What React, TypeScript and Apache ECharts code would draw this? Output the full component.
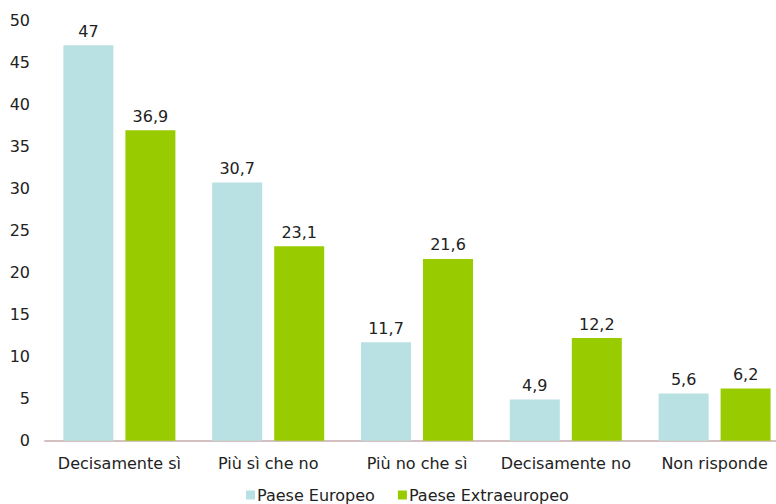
import React, { useEffect, useRef } from "react";
import * as echarts from "echarts";

const categories = ["Decisamente sì", "Più sì che no", "Più no che sì", "Decisamente no", "Non risponde"];
const europeo = [47, 30.7, 11.7, 4.9, 5.6];
const extraeuropeo = [36.9, 23.1, 21.6, 12.2, 6.2];
const seriesNames = ["Paese Europeo", "Paese Extraeuropeo"];
const colors = ["#b9e0e3", "#99cc00"];

const FONT = "'DejaVu Sans', Verdana, sans-serif";
const FS = 16;

export default function App() {
  const ref = useRef<HTMLDivElement>(null);
  useEffect(() => {
    if (!ref.current) return;
    const chart = echarts.init(ref.current, null, { renderer: "svg" });
    const label = {
      show: true,
      position: "top",
      distance: 6,
      color: "#222",
      fontFamily: FONT,
      fontSize: FS,
      formatter: (p: any) => String(p.value).replace(".", ","),
    };
    chart.setOption({
      animation: false,
      textStyle: { fontFamily: FONT },
      legend: {
        data: seriesNames,
        left: 241,
        top: 482,
        itemWidth: 9,
        itemHeight: 9,
        itemGap: 23,
        icon: "rect",
        textStyle: { fontFamily: FONT, fontSize: FS, lineHeight: 16, color: "#222", padding: [0, 0, 0, -3] },
      },
      grid: { left: 45, top: 20, right: 0, bottom: 63.3, containLabel: false },
      xAxis: {
        type: "category",
        data: categories,
        axisLine: { lineStyle: { color: "#d4c0c0", width: 2 } },
        axisTick: { show: false },
        axisLabel: { interval: 0, fontFamily: FONT, fontSize: FS, color: "#222", margin: 15 },
      },
      yAxis: {
        type: "value",
        min: 0,
        max: 50,
        interval: 5,
        splitLine: { show: false },
        axisLine: { show: false },
        axisTick: { show: false },
        axisLabel: { fontFamily: FONT, fontSize: FS, color: "#222", margin: 15 },
      },
      series: [
        {
          name: seriesNames[0],
          type: "bar",
          data: europeo,
          barWidth: 50,
          barGap: "24%",
          itemStyle: { color: colors[0] },
          label,
        },
        {
          name: seriesNames[1],
          type: "bar",
          data: extraeuropeo,
          barWidth: 50,
          barGap: "24%",
          itemStyle: { color: colors[1] },
          label,
        },
      ],
    });
    return () => chart.dispose();
  }, []);
  return (
    <div style={{ width: 776, height: 504, position: "absolute", left: 0, top: 0, overflow: "hidden" }}>
      <div ref={ref} style={{ width: 789, height: 504 }} />
    </div>
  );
}
